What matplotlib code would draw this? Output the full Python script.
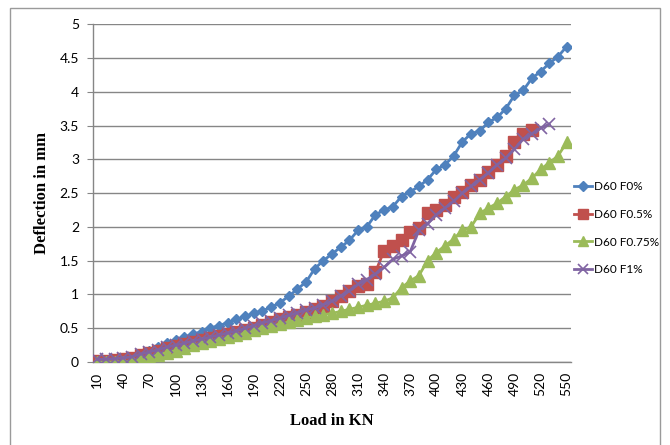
import matplotlib
matplotlib.use("Agg")
import matplotlib.pyplot as plt
from matplotlib.patches import Rectangle

# Load steps (kN) and deflection readings (mm) for each fibre dosage
loads = list(range(10, 560, 10))

d60_f0 = [0.02, 0.02, 0.03, 0.04, 0.07, 0.12, 0.17, 0.22, 0.28, 0.32,
          0.37, 0.41, 0.45, 0.50, 0.54, 0.58, 0.63, 0.68, 0.72, 0.76,
          0.81, 0.88, 0.97, 1.08, 1.18, 1.38, 1.50, 1.60, 1.70, 1.80,
          1.95, 2.00, 2.18, 2.25, 2.30, 2.45, 2.52, 2.60, 2.70, 2.85,
          2.92, 3.05, 3.26, 3.38, 3.42, 3.55, 3.62, 3.75, 3.95, 4.02,
          4.20, 4.30, 4.42, 4.52, 4.67]

d60_f05 = [0.02, 0.02, 0.03, 0.04, 0.06, 0.10, 0.14, 0.17, 0.20, 0.23,
           0.26, 0.29, 0.32, 0.35, 0.38, 0.41, 0.44, 0.47, 0.51, 0.55,
           0.59, 0.63, 0.67, 0.70, 0.74, 0.78, 0.83, 0.90, 0.97, 1.05,
           1.12, 1.15, 1.33, 1.65, 1.72, 1.80, 1.93, 1.98, 2.20, 2.25,
           2.32, 2.45, 2.52, 2.62, 2.70, 2.82, 2.92, 3.05, 3.25, 3.38,
           3.43]

d60_f075 = [0.00, 0.00, 0.00, 0.00, 0.02, 0.04, 0.07, 0.11, 0.14, 0.17,
            0.21, 0.25, 0.28, 0.31, 0.34, 0.37, 0.40, 0.43, 0.47, 0.50,
            0.53, 0.56, 0.59, 0.62, 0.65, 0.68, 0.70, 0.72, 0.75, 0.78,
            0.81, 0.84, 0.87, 0.90, 0.95, 1.10, 1.20, 1.28, 1.50, 1.62,
            1.72, 1.82, 1.95, 2.00, 2.20, 2.28, 2.35, 2.45, 2.55, 2.62,
            2.72, 2.85, 2.95, 3.05, 3.25]

d60_f1 = [0.04, 0.04, 0.05, 0.06, 0.08, 0.12, 0.15, 0.18, 0.22, 0.25,
          0.28, 0.31, 0.34, 0.37, 0.40, 0.43, 0.46, 0.50, 0.54, 0.58,
          0.61, 0.65, 0.69, 0.73, 0.77, 0.80, 0.85, 0.90, 0.98, 1.05,
          1.15, 1.22, 1.30, 1.40, 1.52, 1.57, 1.63, 1.95, 2.05, 2.18,
          2.28, 2.38, 2.50, 2.60, 2.70, 2.80, 2.92, 3.02, 3.15, 3.30,
          3.38, 3.46, 3.52]

series_names = ["D60 F0%", "D60 F0.5%", "D60 F0.75%", "D60 F1%"]
y_ticks = [0, 0.5, 1, 1.5, 2, 2.5, 3, 3.5, 4, 4.5, 5]
y_tick_labels = ["0", "0.5", "1", "1.5", "2", "2.5", "3", "3.5", "4", "4.5", "5"]

fig = plt.figure(figsize=(6.7, 4.45), dpi=100)
ax = fig.add_axes([0.1388, 0.1865, 0.7134, 0.759])

tick_font = "Lato"
title_font = "Liberation Serif"

styles = [
    dict(color="#4F81BD", marker="D", markersize=5.5),
    dict(color="#C0504D", marker="s", markersize=8),
    dict(color="#9BBB59", marker="^", markersize=8),
    dict(color="#8064A2", marker="x", markersize=8, markeredgewidth=1.2),
]
data = [d60_f0, d60_f05, d60_f075, d60_f1]

for name, vals, st in zip(series_names, data, styles):
    xs = list(range(len(vals)))
    ax.plot(xs, vals, linewidth=2, label=name, zorder=3, **st)

ax.set_xlim(-0.5, len(loads) - 0.5)
ax.set_ylim(0, 5)

ax.set_yticks(y_ticks)
ax.set_yticklabels(y_tick_labels, fontfamily=tick_font, fontsize=10)
ax.yaxis.grid(True, color="#868686", linewidth=1)
ax.set_axisbelow(True)

label_idx = list(range(0, len(loads), 3))
ax.set_xticks(label_idx)
ax.set_xticklabels([str(loads[i]) for i in label_idx], rotation=90,
                   fontfamily=tick_font, fontsize=10)
ax.tick_params(axis="x", length=0, pad=7)
ax.tick_params(axis="y", length=4, color="#868686", pad=6)

for side in ("top", "right"):
    ax.spines[side].set_visible(False)
for side in ("left", "bottom"):
    ax.spines[side].set_color("#868686")
    ax.spines[side].set_linewidth(1)

ax.set_xlabel("Load in KN", fontfamily=title_font, fontweight="bold",
              fontsize=12, labelpad=12)
ax.set_ylabel("Deflection in mm", fontfamily=title_font, fontweight="bold",
              fontsize=12, labelpad=7)

ax.legend(loc="center left", bbox_to_anchor=(0.857, 0.487),
          bbox_transform=fig.transFigure, frameon=False, borderpad=0,
          borderaxespad=0, handlelength=1.5, handletextpad=0.2,
          labelspacing=1.4, markerscale=0.9,
          prop={"family": tick_font, "size": 8.5})

# Chart-area border
fig.add_artist(Rectangle((10 / 670, -0.01), 650 / 670, 0.992,
                         transform=fig.transFigure, fill=False,
                         edgecolor="#9a9a9a", linewidth=1))

fig.savefig("out.png", dpi=100)
